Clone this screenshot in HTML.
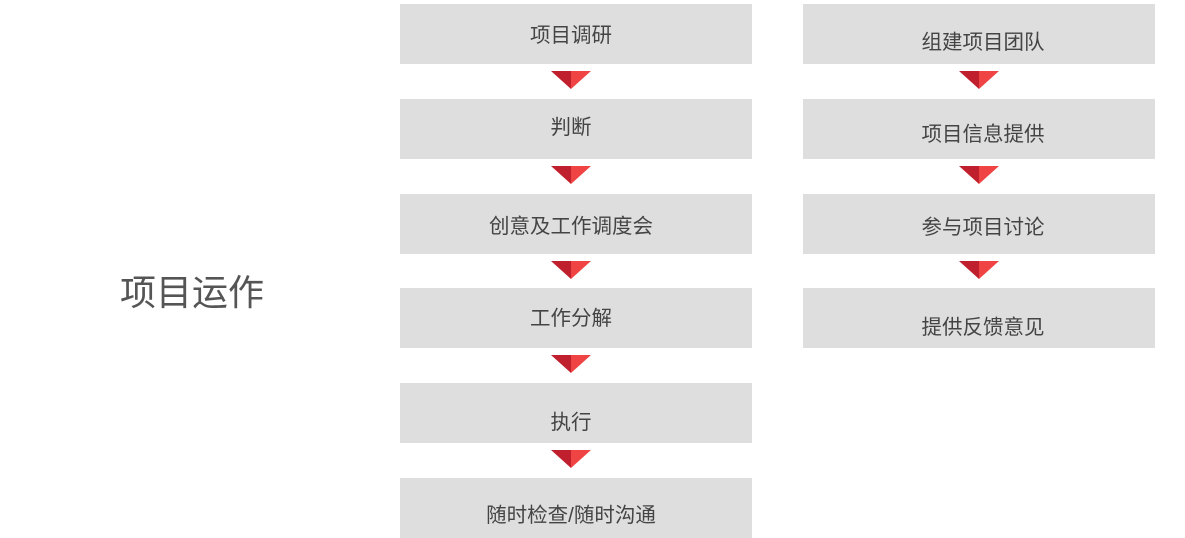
<!DOCTYPE html>
<html><head><meta charset="utf-8"><style>
body{margin:0;width:1185px;height:538px;background:#fff;position:relative;overflow:hidden;font-family:"Liberation Sans","Noto Sans CJK SC",sans-serif;}
.b{position:absolute;width:352px;height:60px;background:#dedede;}
.t{position:absolute;width:352px;text-align:center;font-size:20.5px;color:#444;line-height:24px;}
.l{left:395px}.r{left:807px}
</style></head><body>
<div style="position:absolute;left:120px;top:269px;font-size:36px;color:#555;line-height:48px;">项目运作</div>

<div class="b" style="left:400px;top:4px"></div>
<div class="b" style="left:400px;top:99px"></div>
<div class="b" style="left:400px;top:194px"></div>
<div class="b" style="left:400px;top:288px"></div>
<div class="b" style="left:400px;top:383px"></div>
<div class="b" style="left:400px;top:478px"></div>
<div class="b" style="left:803px;top:4px"></div>
<div class="b" style="left:803px;top:99px"></div>
<div class="b" style="left:803px;top:194px"></div>
<div class="b" style="left:803px;top:288px"></div>

<div class="t l" style="top:24px">项目调研</div>
<div class="t l" style="top:116px">判断</div>
<div class="t l" style="top:215px">创意及工作调度会</div>
<div class="t l" style="top:307px">工作分解</div>
<div class="t l" style="top:411px">执行</div>
<div class="t l" style="top:504px">随时检查/随时沟通</div>
<div class="t r" style="top:31px">组建项目团队</div>
<div class="t r" style="top:123px">项目信息提供</div>
<div class="t r" style="top:216px">参与项目讨论</div>
<div class="t r" style="top:316px">提供反馈意见</div>

<svg width="1185" height="538" style="position:absolute;left:0;top:0">
<defs><g id="tr"><polygon points="0,0 20,0 20,18" fill="#c0202e"/><polygon points="20,0 40,0 20,18" fill="#f04444"/></g></defs>
<use href="#tr" x="551" y="71"/><use href="#tr" x="551" y="166"/><use href="#tr" x="551" y="261"/><use href="#tr" x="551" y="355"/><use href="#tr" x="551" y="450"/>
<use href="#tr" x="959" y="71"/><use href="#tr" x="959" y="166"/><use href="#tr" x="959" y="261"/>
</svg>
</body></html>
